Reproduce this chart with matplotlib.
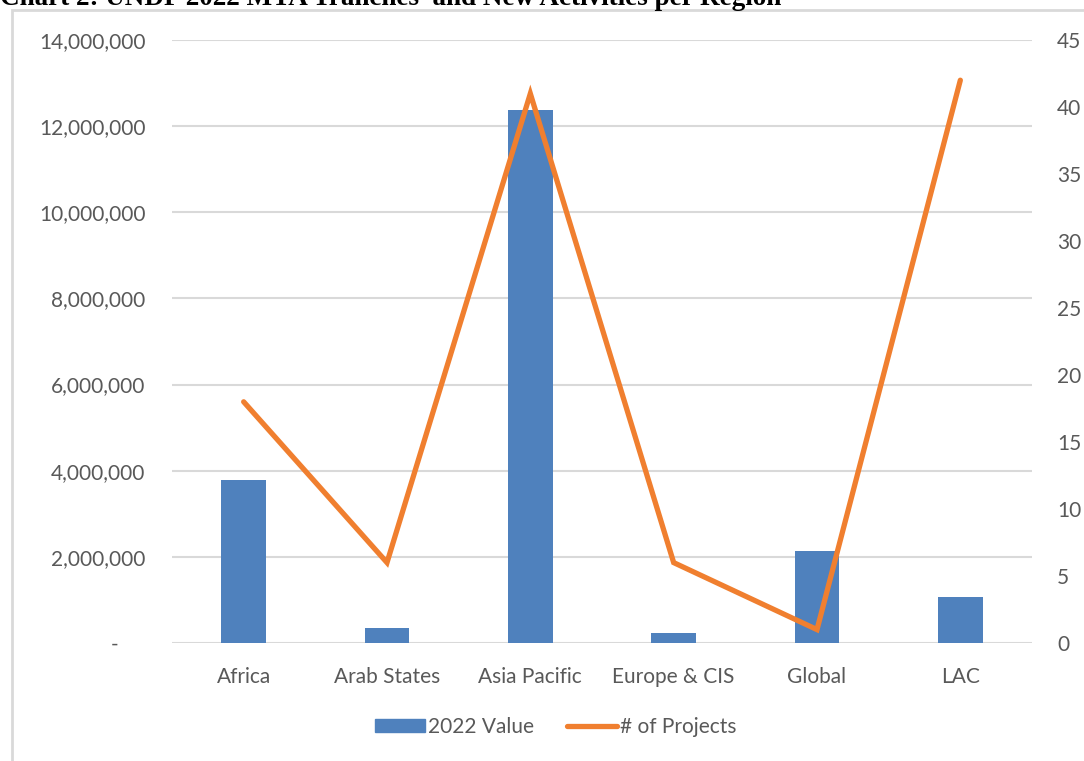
import matplotlib
matplotlib.use("Agg")
import matplotlib.pyplot as plt
import matplotlib.patches as mpatches
from matplotlib.lines import Line2D
from matplotlib.ticker import FuncFormatter, MultipleLocator

regions = ["Africa", "Arab States", "Asia Pacific", "Europe & CIS", "Global", "LAC"]
values_2022 = [3780000, 350000, 12370000, 230000, 2140000, 1070000]
num_projects = [18, 6, 41, 6, 1, 42]

bar_color = "#4f81bd"
line_color = "#f07f2f"
text_color = "#595959"
grid_color = "#d9d9d9"
font = "Lato"
fs = 15

fig = plt.figure(figsize=(10.84, 7.61), dpi=100)

# outer chart frame (cut off on right and bottom like the screenshot)
frame = mpatches.Rectangle((12 / 1084, -0.05), 1.1, 1 - 10 / 761 + 0.05,
                           transform=fig.transFigure, fill=False,
                           edgecolor="#d9d9d9", linewidth=2)
fig.patches.append(frame)

fig.text(0.0, 1 - 5 / 761, "Chart 2: UNDP 2022 MTA Tranches  and New Activities per Region",
         family="Liberation Serif", fontweight="bold", fontsize=19.5,
         ha="left", va="baseline")

ax = fig.add_axes([172 / 1084, 118 / 761, 860 / 1084, 603 / 761])
x = range(len(regions))
ax.bar(x, values_2022, width=0.31, color=bar_color, zorder=2)
ax.set_ylim(0, 14000000)
ax.set_xlim(-0.5, len(regions) - 0.5)
ax.yaxis.set_major_locator(MultipleLocator(2000000))
ax.yaxis.set_major_formatter(FuncFormatter(lambda v, p: "-     " if v == 0 else f"{int(v):,}"))
ax.grid(axis="y", color=grid_color, linewidth=1.5, zorder=0)
ax.set_xticks(list(x))
ax.set_xticklabels(regions)
for s in ax.spines.values():
    s.set_visible(False)
ax.tick_params(length=0, labelsize=fs, labelcolor=text_color)
ax.tick_params(axis="y", pad=19)
ax.tick_params(axis="x", pad=17)
for lbl in ax.get_xticklabels() + ax.get_yticklabels():
    lbl.set_family(font)

ax2 = ax.twinx()
ax2.plot(list(x), num_projects, color=line_color, linewidth=3.8,
         solid_capstyle="round", solid_joinstyle="miter", zorder=3)
ax2.set_ylim(0, 45)
ax2.yaxis.set_major_locator(MultipleLocator(5))
for s in ax2.spines.values():
    s.set_visible(False)
ax2.tick_params(length=0, labelsize=fs, labelcolor=text_color, pad=18)
for lbl in ax2.get_yticklabels():
    lbl.set_family(font)

handles = [mpatches.Patch(color=bar_color, label="2022 Value"),
           Line2D([0], [0], color=line_color, linewidth=3.8, solid_capstyle="round", label="# of Projects")]
fig.legend(handles=handles, loc="center", bbox_to_anchor=(556 / 1084, 1 - 727 / 761),
           ncol=2, frameon=False, prop={"family": font, "size": fs},
           labelcolor=text_color, handlelength=2.4, handletextpad=0.15,
           columnspacing=1.57, handleheight=0.6)

fig.savefig("out.png", dpi=100)
